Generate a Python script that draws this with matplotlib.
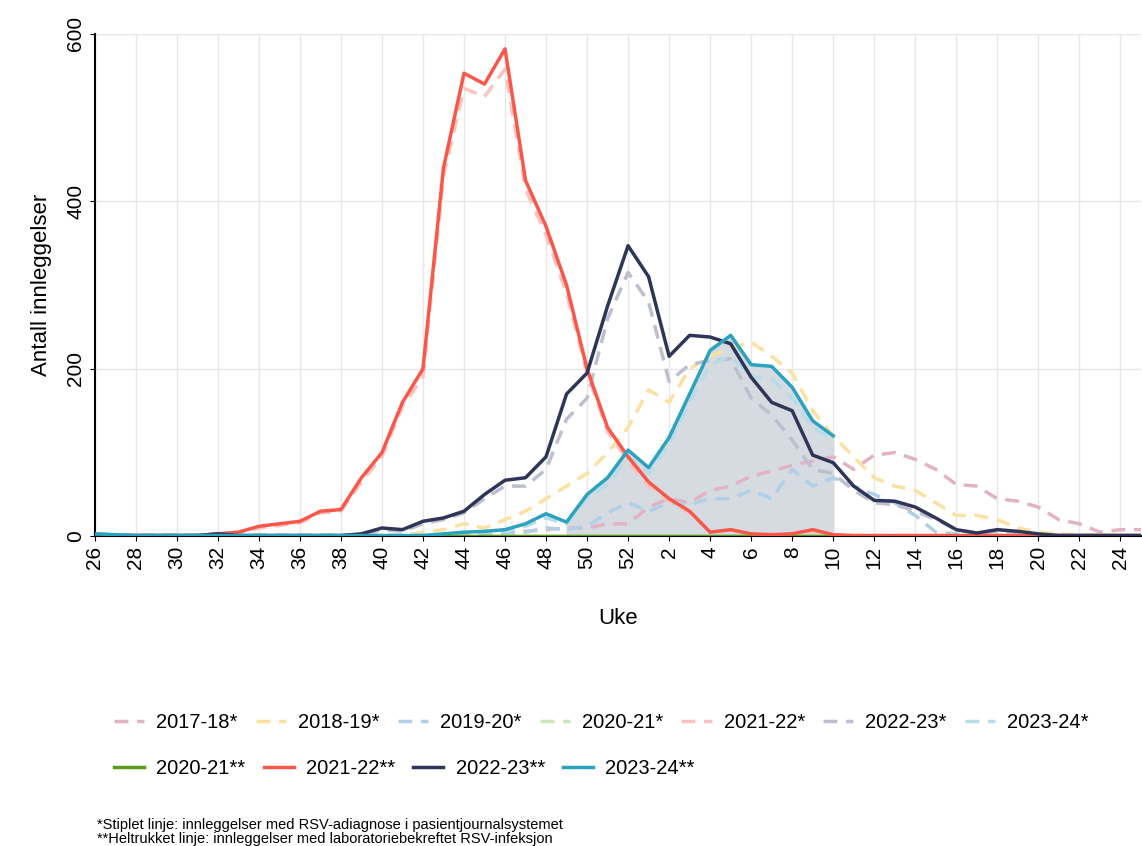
import numpy as np
import matplotlib.pyplot as plt

plt.rcParams['font.family'] = ['Liberation Sans', 'DejaVu Sans']

weeks = list(range(26, 53)) + list(range(1, 26))
tick_labels = [str(w) for w in weeks[::2]]

s1718 = [3, 2, 1, 1, 1, 1, 1, 1, 1, 1, 1, 1, 1, 1, 1, 1, 1, 1, 2, 3, 5, 6, 8, 10, 10, 15, 15, 35,
         45, 40, 55, 60, 72, 78, 85, 90, 95, 80, 97, 100, 92, 80, 62, 60, 45, 42, 35, 20, 15, 5, 8, 8]
s1819 = [1, 1, 1, 1, 1, 1, 1, 1, 1, 1, 1, 1, 1, 1, 1, 1, 5, 8, 15, 10, 20, 30, 45, 60, 75, 100, 130,
         175, 160, 200, 215, 225, 232, 215, 195, 150, 120, 95, 70, 60, 55, 40, 25, 25, 20, 10, 5, 3, 2, 2, 1, 1]
s1920 = [1, 1, 1, 1, 1, 1, 1, 1, 1, 1, 1, 1, 1, 1, 1, 1, 1, 2, 2, 3, 4, 5, 10, 8, 12, 28, 40,
         30, 40, 38, 45, 45, 55, 45, 80, 60, 70, 60, 50, 40, 25, 5, 3, 2, 1, 1, 1, 1, 1, 1, 1, 1]
s2021 = [1] * 52
s2122 = [2, 1, 1, 1, 1, 1, 3, 5, 10, 13, 16, 28, 30, 65, 95, 155, 190, 430, 535, 525, 558, 415, 360, 290, 195, 125, 90,
         60, 42, 28, 5, 7, 3, 2, 3, 6, 2, 1, 1, 1, 1, 1, 1, 1, 1, 1, 1, 1, 1, 1, 1, 1]
s2223 = [2, 1, 1, 1, 1, 1, 2, 1, 1, 1, 1, 1, 1, 2, 8, 6, 15, 20, 28, 45, 60, 60, 80, 140, 165, 260, 315,
         280, 185, 205, 210, 212, 165, 145, 115, 80, 75, 55, 40, 38, 30, 20, 8, 4, 6, 5, 2, 1, 1, 1, 1, 1]
s2324 = [3, 2, 1, 1, 1, 1, 1, 1, 1, 1, 1, 1, 1, 1, 1, 1, 1, 2, 4, 5, 6, 12, 22, 15, 45, 62, 95,
         75, 110, 160, 205, 215, 190, 188, 165, 130, 115]
l2021 = [1] * 52
l2122 = [2, 1, 1, 1, 1, 1, 3, 5, 12, 15, 18, 30, 32, 70, 100, 160, 200, 440, 553, 540, 582, 425, 370, 300, 200, 130, 95,
         65, 45, 30, 5, 8, 3, 2, 3, 8, 2, 1, 1, 1, 1, 1, 1, 1, 1, 1, 1, 1, 1, 1, 1, 1]
l2223 = [2, 1, 1, 1, 1, 1, 3, 1, 1, 1, 1, 1, 1, 3, 10, 8, 18, 22, 30, 50, 67, 70, 95, 170, 195, 275, 347,
         310, 215, 240, 238, 230, 190, 160, 150, 97, 88, 60, 43, 42, 35, 22, 8, 4, 8, 6, 3, 1, 1, 1, 1, 1]
l2324 = [3, 2, 1, 1, 1, 1, 1, 1, 1, 1, 1, 1, 1, 1, 1, 1, 1, 3, 5, 6, 8, 15, 27, 17, 50, 70, 103,
         82, 118, 170, 222, 240, 205, 203, 178, 138, 120]

dashed = [("2017-18*", s1718, "#E2B3C4"), ("2018-19*", s1819, "#FBE2A2"),
          ("2019-20*", s1920, "#AFD0E6"), ("2020-21*", s2021, "#CDE5BA"),
          ("2021-22*", s2122, "#F9C4C0"), ("2022-23*", s2223, "#BDBFCE"),
          ("2023-24*", s2324, "#B7DDEA")]
solid = [("2020-21**", l2021, "#5B9A1F"), ("2021-22**", l2122, "#F8574A"),
         ("2022-23**", l2223, "#2E3557"), ("2023-24**", l2324, "#2BA3BE")]

fig = plt.figure(figsize=(11.42, 8.46), dpi=100)
ax = fig.add_axes([0.083, 0.366, 0.916, 0.594])

x24 = np.arange(len(l2324))
shade = x24 >= 23
ax.fill_between(x24[shade], 0, np.array(l2324)[shade], color="#D5DBE0", zorder=1)

h_dash = []
for name, vals, col in dashed:
    h, = ax.plot(np.arange(len(vals)), vals, color=col, lw=2.5, ls=(0, (4, 2.5)), label=name, zorder=2)
    h_dash.append(h)
h_solid = []
for name, vals, col in solid:
    h, = ax.plot(np.arange(len(vals)), vals, color=col, lw=2.5, label=name, zorder=3)
    h_solid.append(h)

ax.set_xlim(0, 51)
ax.set_ylim(0, 600)
ax.set_xticks(np.arange(0, 52, 2))
ax.set_xticklabels(tick_labels, rotation=90, fontsize=15)
ax.set_yticks([0, 200, 400, 600])
ax.set_yticklabels(["0", "200", "400", "600"], rotation=90, va="center", fontsize=15)
ax.grid(True, color="#E6E6E6", lw=1)
ax.set_axisbelow(True)
for sp in ["top", "right"]:
    ax.spines[sp].set_visible(False)
ax.spines["left"].set_linewidth(1.5)
ax.spines["bottom"].set_linewidth(1.5)
ax.set_xlabel("Uke", fontsize=16, labelpad=28)
ax.set_ylabel("Antall innleggelser", fontsize=16, labelpad=10)

kw = dict(loc="center left", frameon=False, fontsize=14.5, handlelength=1.5,
          columnspacing=0.9, handletextpad=0.6, borderaxespad=0, borderpad=0)
fig.legend(handles=h_dash, ncol=7, bbox_to_anchor=(0.1, 0.146), **kw)
fig.legend(handles=h_solid, ncol=4, bbox_to_anchor=(0.1, 0.092), **kw)

fig.text(0.085, 0.0, "*Stiplet linje: innleggelser med RSV-adiagnose i pasientjournalsystemet\n"
         "**Heltrukket linje: innleggelser med laboratoriebekreftet RSV-infeksjon",
         fontsize=10.5, va="bottom", linespacing=1.0)

fig.savefig("out.png", dpi=100)
